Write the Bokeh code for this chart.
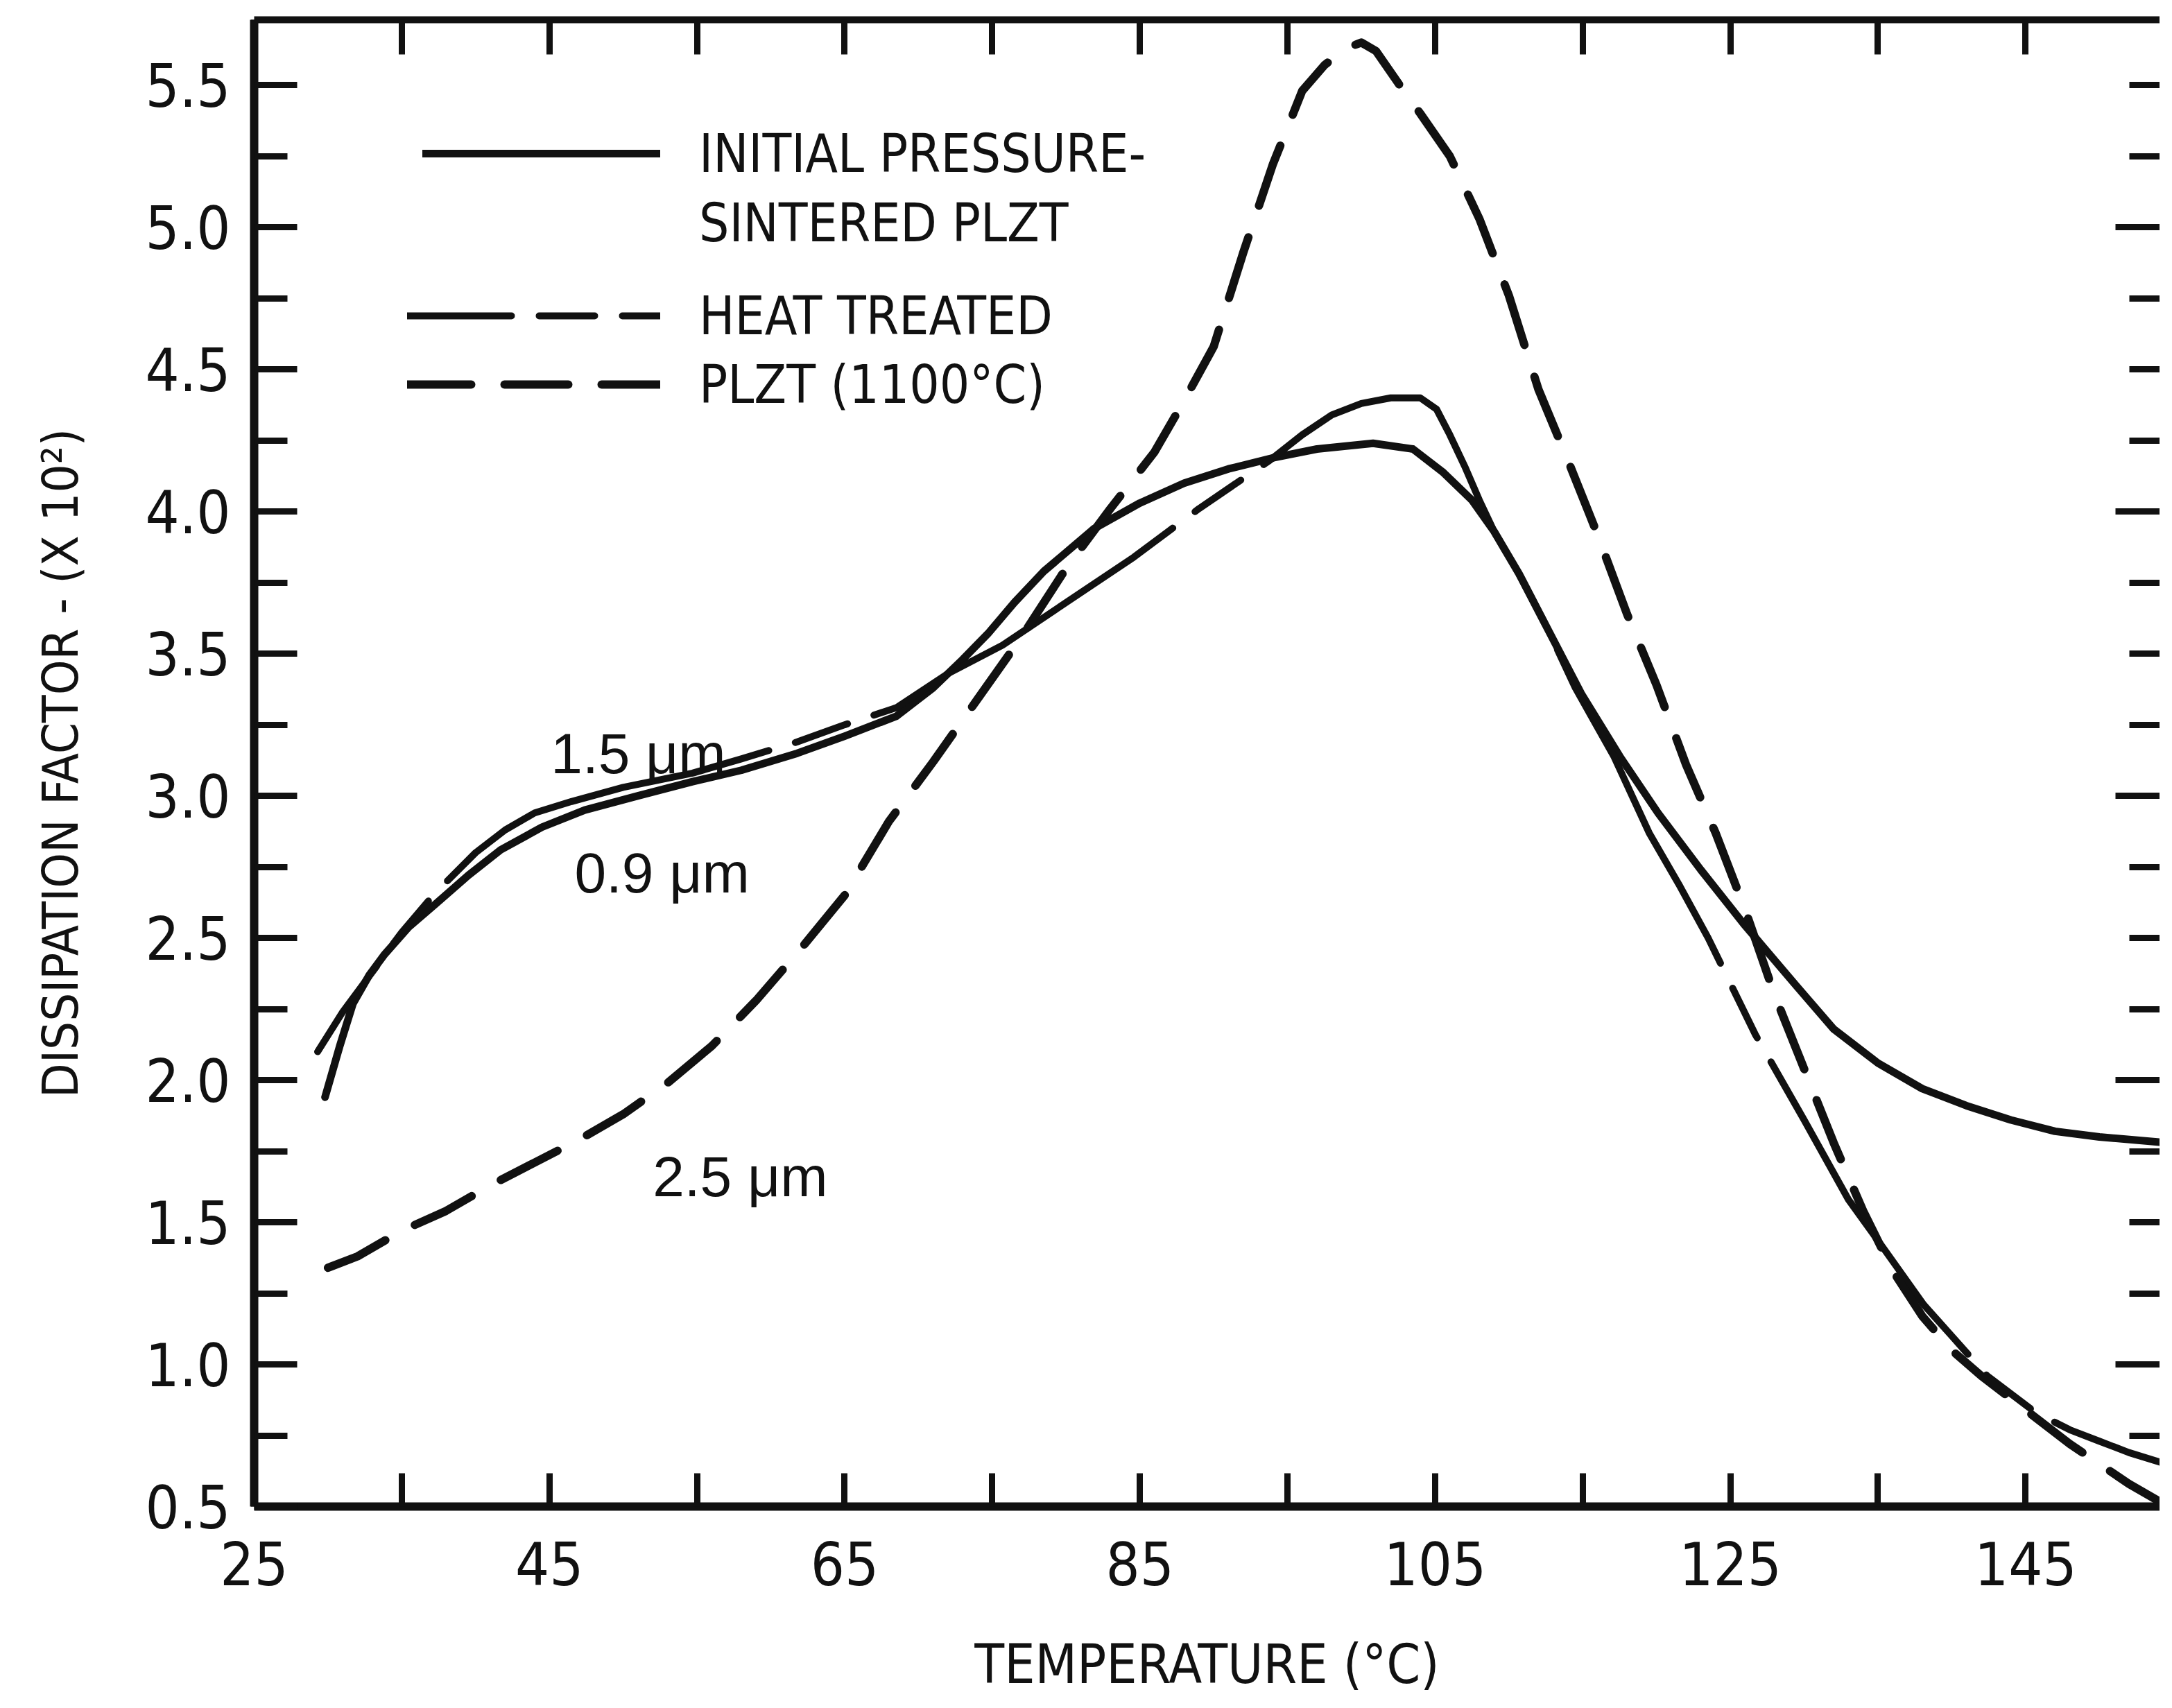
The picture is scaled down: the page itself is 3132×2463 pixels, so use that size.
from bokeh.plotting import figure
from bokeh.models import (Range1d, LinearAxis, FixedTicker, PrintfTickFormatter,
                          Label, Legend, LegendItem)
from bokeh.embed import file_html
from bokeh.resources import INLINE

# ---------------- data ----------------
# 0.9 um, initial pressure-sintered PLZT (solid)
temp_09 = [29.8, 30.8, 31.7, 32.8, 33.8, 35.5, 37.3, 39.5, 41.7, 44.5,
           47.4, 51.0, 54.7, 58.0, 61.8, 65.0, 68.5, 71.0, 73.0, 74.7,
           76.5, 78.5, 81.9, 85.0, 88.0, 91.0, 94.1, 97.0, 100.8, 103.5,
           105.5, 107.5, 109.0, 110.7, 112.8, 114.9, 117.5, 120.1, 123.0, 125.9,
           129.5, 132.0, 135.0, 138.0, 141.0, 144.0, 147.0, 150.0, 154.5]
df_09 = [1.94, 2.12, 2.27, 2.37, 2.44, 2.54, 2.62, 2.72, 2.81, 2.89,
         2.95, 3.00, 3.05, 3.09, 3.15, 3.21, 3.28, 3.38, 3.48, 3.57,
         3.68, 3.79, 3.94, 4.03, 4.10, 4.15, 4.19, 4.22, 4.24, 4.22,
         4.14, 4.04, 3.93, 3.78, 3.57, 3.36, 3.14, 2.94, 2.74, 2.55,
         2.33, 2.18, 2.06, 1.97, 1.91, 1.86, 1.82, 1.80, 1.78]

# 1.5 um, heat treated (long-short dash)
temp_15 = [29.3, 31.0, 33.0, 35.0, 37.3, 40.0, 42.0, 44.0, 46.5, 50.0,
           54.7, 58.0, 61.8, 65.0, 68.5, 72.0, 75.7, 80.0, 84.6, 89.0,
           93.8, 96.0, 98.0, 100.0, 102.0, 104.0, 105.1, 106.0, 107.0, 108.0,
           109.0, 110.9, 112.7, 114.5, 117.1, 119.5, 121.5, 123.5, 126.7, 130.0,
           133.0, 135.5, 138.1, 140.0, 142.4, 145.7, 148.0, 150.0, 152.0, 154.5]
df_15 = [2.10, 2.24, 2.38, 2.52, 2.66, 2.80, 2.88, 2.94, 2.98, 3.03,
         3.08, 3.13, 3.19, 3.25, 3.31, 3.43, 3.53, 3.68, 3.84, 4.01,
         4.18, 4.27, 4.34, 4.38, 4.40, 4.40, 4.36, 4.27, 4.16, 4.04,
         3.93, 3.76, 3.58, 3.38, 3.14, 2.87, 2.69, 2.50, 2.16, 1.86,
         1.58, 1.40, 1.21, 1.10, 0.96, 0.83, 0.77, 0.73, 0.69, 0.65]

# 2.5 um, heat treated (even dashes)
temp_25 = [30, 32, 35, 38, 41, 44, 47, 50, 53, 56,
           59, 62, 65, 68, 71, 74, 77, 80, 83, 86,
           88, 90, 92, 94, 96, 97.5, 99, 100, 101, 102.6,
           104, 106, 108, 110, 112, 114, 116, 118, 120, 122,
           124, 126, 128, 130, 132, 134, 136, 138, 140, 142,
           144, 146, 148, 150, 152, 154]
df_25 = [1.34, 1.38, 1.47, 1.54, 1.63, 1.71, 1.79, 1.88, 1.99, 2.12,
         2.28, 2.46, 2.65, 2.91, 3.12, 3.34, 3.56, 3.80, 4.01, 4.21,
         4.39, 4.58, 4.91, 5.22, 5.48, 5.57, 5.63, 5.65, 5.62, 5.50,
         5.40, 5.25, 5.03, 4.76, 4.43, 4.18, 3.92, 3.64, 3.39, 3.11,
         2.87, 2.60, 2.30, 2.04, 1.78, 1.54, 1.33, 1.17, 1.05, 0.96,
         0.88, 0.80, 0.72, 0.65, 0.58, 0.52]

x_label_ticks = [25, 45, 65, 85, 105, 125, 145]
x_other_ticks = [35, 55, 75, 95, 115, 135]
y_label_ticks = [0.5, 1.0, 1.5, 2.0, 2.5, 3.0, 3.5, 4.0, 4.5, 5.0, 5.5]
y_quarter_ticks = [0.75, 1.25, 1.75, 2.25, 2.75, 3.25, 3.75, 4.25, 4.75, 5.25]
y_right_long = [1.0, 2.0, 3.0, 4.0, 5.0]
y_right_short = [0.75, 1.25, 1.5, 1.75, 2.25, 2.5, 2.75, 3.25, 3.5, 3.75,
                 4.25, 4.5, 4.75, 5.25, 5.5]

curve_labels = ["0.9 \u03bcm", "1.5 \u03bcm", "2.5 \u03bcm"]
legend_texts = ["INITIAL PRESSURE-", "SINTERED PLZT", "HEAT TREATED", "PLZT (1100\u00b0C)"]
x_title = "TEMPERATURE (\u00b0C)"
y_title = "DISSIPATION FACTOR - (X 10\u00b2)"

FONT = "DejaVu Sans Condensed, Liberation Sans"
INK = "#111111"

# ---------------- figure ----------------
p = figure(frame_width=2748, frame_height=2144,
           x_range=Range1d(25, 154.1), y_range=Range1d(0.5, 5.73),
           output_backend="svg", toolbar_location=None,
           min_border_left=366, min_border_top=28, min_border_right=0,
           min_border_bottom=270)
p.outline_line_color = None
p.grid.visible = False
p.background_fill_color = "white"
p.border_fill_color = "white"

# bottom axis
xa = p.xaxis[0]
xa.ticker = FixedTicker(ticks=x_label_ticks, minor_ticks=x_other_ticks)
xa.axis_line_width = 12
xa.axis_line_color = INK
xa.major_tick_in = 48
xa.major_tick_out = 0
xa.minor_tick_in = 48
xa.minor_tick_out = 0
xa.major_tick_line_width = 9
xa.minor_tick_line_width = 9
xa.major_tick_line_color = INK
xa.minor_tick_line_color = INK
xa.major_label_text_font = FONT
xa.major_label_text_font_size = "86px"
xa.major_label_text_color = INK
xa.major_label_standoff = 50
xa.axis_label = x_title
xa.axis_label_text_font = FONT
xa.axis_label_text_font_size = "78px"
xa.axis_label_text_font_style = "normal"
xa.axis_label_text_color = INK
xa.axis_label_standoff = 66

# left axis
ya = p.yaxis[0]
ya.ticker = FixedTicker(ticks=y_label_ticks, minor_ticks=y_quarter_ticks)
ya.formatter = PrintfTickFormatter(format="%.1f")
ya.axis_line_width = 12
ya.axis_line_color = INK
ya.major_tick_in = 62
ya.major_tick_out = 0
ya.minor_tick_in = 48
ya.minor_tick_out = 0
ya.major_tick_line_width = 9
ya.minor_tick_line_width = 9
ya.major_tick_line_color = INK
ya.minor_tick_line_color = INK
ya.major_label_text_font = FONT
ya.major_label_text_font_size = "86px"
ya.major_label_text_color = INK
ya.major_label_standoff = 34
ya.axis_label = y_title
ya.axis_label_text_font = FONT
ya.axis_label_text_font_size = "72px"
ya.axis_label_text_font_style = "normal"
ya.axis_label_text_color = INK
ya.axis_label_standoff = 78

# top axis: ticks only
top = LinearAxis(ticker=FixedTicker(ticks=x_label_ticks, minor_ticks=x_other_ticks),
                 axis_line_width=10, axis_line_color=INK,
                 major_tick_in=50, major_tick_out=0, minor_tick_in=50, minor_tick_out=0,
                 major_tick_line_width=9, minor_tick_line_width=9,
                 major_tick_line_color=INK, minor_tick_line_color=INK,
                 major_label_text_color=None, major_label_text_font_size="1px",
                 major_label_standoff=0)
p.add_layout(top, "above")

# right axis: ticks only, no visible spine
right = LinearAxis(ticker=FixedTicker(ticks=y_right_long, minor_ticks=y_right_short),
                   axis_line_color=None,
                   major_tick_in=64, major_tick_out=0, minor_tick_in=44, minor_tick_out=0,
                   major_tick_line_width=9, minor_tick_line_width=9,
                   major_tick_line_color=INK, minor_tick_line_color=INK,
                   major_label_text_color=None, major_label_text_font_size="1px",
                   major_label_standoff=0)
p.add_layout(right, "right")

# ---------------- curves ----------------
r09 = p.line(temp_09, df_09, line_width=11, line_color=INK,
             line_join="round", line_cap="round")
r15 = p.line(temp_15, df_15, line_width=10, line_color=INK,
             line_join="round", line_cap="round",
             line_dash="510 40 80 40", line_dash_offset=360)
r25 = p.line(temp_25, df_25, line_width=12, line_color=INK,
             line_join="round", line_cap="round", line_dash="92 48")
blank = p.line(x=[], y=[], line_alpha=0)

# curve annotations
for txt, (lx, ly) in zip(curve_labels, [(46.7, 2.73), (45.1, 3.15), (52.0, 1.66)]):
    p.add_layout(Label(x=lx, y=ly, text=txt, text_font="Liberation Sans",
                       text_font_size="82px", text_color=INK,
                       text_baseline="alphabetic"))

# ---------------- legends ----------------
leg_common = dict(orientation="vertical", glyph_height=96, label_height=96,
                  label_standoff=56, padding=0, margin=0,
                  border_line_color=None, background_fill_alpha=0,
                  label_text_font=FONT, label_text_font_size="76px",
                  label_text_color=INK)
legend1 = Legend(items=[LegendItem(label=legend_texts[0], renderers=[r09]),
                        LegendItem(label=legend_texts[1], renderers=[blank])],
                 location=(243, 1803), glyph_width=343, spacing=4, **leg_common)
legend2 = Legend(items=[LegendItem(label=legend_texts[2], renderers=[r15]),
                        LegendItem(label=legend_texts[3], renderers=[r25])],
                 location=(221, 1570), glyph_width=365, spacing=3, **leg_common)
p.add_layout(legend1)
p.add_layout(legend2)

open("out.html", "w").write(file_html(p, INLINE))
